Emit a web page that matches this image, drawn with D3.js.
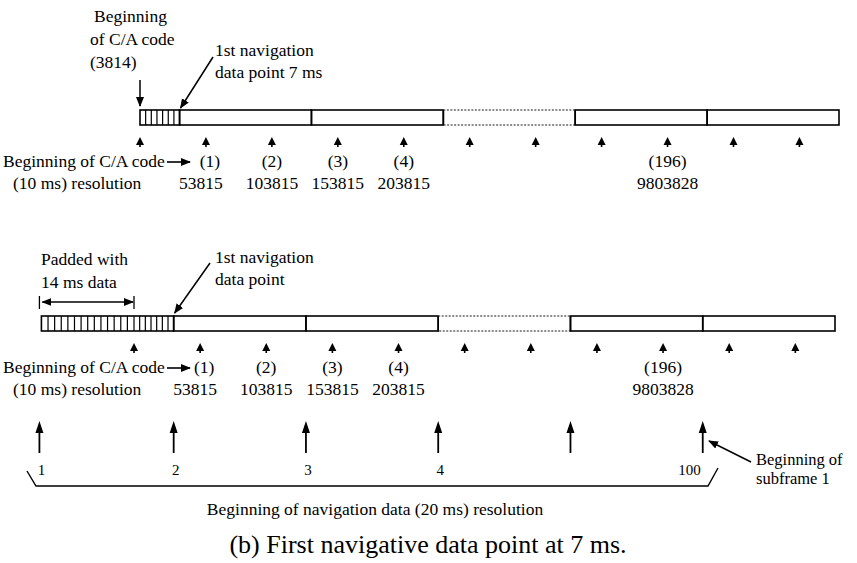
<!DOCTYPE html>
<html>
<head>
<meta charset="utf-8">
<script src="https://cdn.jsdelivr.net/npm/d3@7"></script>
<style>
  body { margin: 0; background: #fff; }
  svg text { font-family: "Liberation Serif", "Times New Roman", serif; fill: #000; }
</style>
</head>
<body>
<div id="chart"></div>
<script>
// C/A code sample points, every 10 ms (ms after the C/A code start)
const caTicksMs = [0, 10, 20, 30, 40, 50, 60, 70, 80, 90, 100];
// navigation bit edges (ms), 20 ms per bit
const navEdgesMs = [6, 26, 46, 66, 86, 106];
const dottedSeg = 2;          // the segment drawn as "skipped" data
const hatchCells = 7;         // 1 ms cells before the first navigation point
const padMs = -14;            // padding in the second panel
const padCells = 14;
// labels under the C/A arrows
const labelTickIdx = [1, 2, 3, 4, 8];
const idxLabels = ["(1)", "(2)", "(3)", "(4)", "(196)"];
const sampleLabels = ["53815", "103815", "153815", "203815", "9803828"];
// navigation-data arrows of the lower line
const navArrowMs = [-14, 6, 26, 46, 66, 86];
const navArrowLabels = ["1", "2", "3", "4", "", "100"];

const W = 857, H = 563;
const svg = d3.select("#chart").append("svg")
    .attr("width", W)
    .attr("height", H);

const xTop = d3.scaleLinear().domain([0, 106]).range([140, 839]);
const xBot = d3.scaleLinear().domain([0, 106]).range([134, 835]);

// arrow head markers for the thin pointer lines
const defs = svg.append("defs");
function marker(id, d, refX) {
    defs.append("marker")
        .attr("id", id)
        .attr("viewBox", "0 0 10 10")
        .attr("refX", refX).attr("refY", 5)
        .attr("markerWidth", 10).attr("markerHeight", 10)
        .attr("markerUnits", "userSpaceOnUse")
        .attr("orient", "auto")
        .append("path")
        .attr("d", d)
        .attr("fill", "#000");
}
marker("head", "M0,1 L10,5 L0,9 Z", 9);
marker("headRev", "M10,1 L0,5 L10,9 Z", 1);

function upArrow(g, x, yTip, len, hw, hh, sw) {
    g.append("line")
        .attr("x1", x).attr("x2", x)
        .attr("y1", yTip + hh - 1).attr("y2", yTip + len)
        .attr("stroke", "#000").attr("stroke-width", sw);
    g.append("path")
        .attr("d", `M${x},${yTip} L${x - hw / 2},${yTip + hh} L${x + hw / 2},${yTip + hh} Z`)
        .attr("fill", "#000");
}

function pointer(x1, y1, x2, y2) {
    svg.append("line")
        .attr("x1", x1).attr("y1", y1)
        .attr("x2", x2).attr("y2", y2)
        .attr("stroke", "#000").attr("stroke-width", 1.5)
        .attr("marker-end", "url(#head)");
}

function text(x, y, str, size, anchor) {
    return svg.append("text")
        .attr("x", x).attr("y", y)
        .attr("text-anchor", anchor || "start")
        .style("font-size", size + "px")
        .text(str);
}

function drawPanel(x, barTop, barH, startMs, cellsBefore) {
    const g = svg.append("g");
    // hatched part (padding + first 7 ms)
    g.append("rect")
        .attr("x", x(startMs)).attr("y", barTop)
        .attr("width", x(navEdgesMs[0]) - x(startMs)).attr("height", barH)
        .attr("fill", "none").attr("stroke", "#000").attr("stroke-width", 1.6);
    const cellEdges = [];
    for (let i = 1; i < cellsBefore; i++) cellEdges.push(startMs + (0 - startMs) * i / cellsBefore);
    for (let i = 0; i < hatchCells; i++) cellEdges.push(navEdgesMs[0] * i / hatchCells);
    g.selectAll(".cell").data(cellEdges.filter(d => d > startMs)).enter().append("line")
        .attr("x1", d => x(d)).attr("x2", d => x(d))
        .attr("y1", barTop).attr("y2", barTop + barH)
        .attr("stroke", "#000").attr("stroke-width", 1.2);

    // navigation bits
    const segs = d3.pairs(navEdgesMs);
    g.selectAll(".seg").data(segs).enter().append("rect")
        .attr("x", d => x(d[0])).attr("y", barTop)
        .attr("width", d => x(d[1]) - x(d[0])).attr("height", barH)
        .attr("fill", "none")
        .attr("stroke", (d, i) => i === dottedSeg ? "#666" : "#000")
        .attr("stroke-width", (d, i) => i === dottedSeg ? 1.3 : 1.6)
        .attr("stroke-dasharray", (d, i) => i === dottedSeg ? "2,1.5" : null);
    // solid ends of neighbours over the dotted box
    g.selectAll(".edge").data([navEdgesMs[dottedSeg], navEdgesMs[dottedSeg + 1]]).enter().append("line")
        .attr("x1", d => x(d)).attr("x2", d => x(d))
        .attr("y1", barTop).attr("y2", barTop + barH)
        .attr("stroke", "#000").attr("stroke-width", 1.6);

    // C/A code arrows
    const aTip = barTop + barH + 12;
    caTicksMs.forEach(t => upArrow(g, x(t), aTip, 10, 8, 8, 1.6));

    // labels
    const r1 = aTip + 30, r2 = r1 + 22;
    labelTickIdx.forEach((k, i) => {
        text(x(caTicksMs[k]) + (i === 0 ? 4 : 0), r1, idxLabels[i], 17.5, "middle");
        text(x(caTicksMs[k]) - (i === 0 ? 5 : 0), r2, sampleLabels[i], 17.5, "middle");
    });
    text(3, r1, "Beginning of C/A code", 17.5);
    svg.append("line")
        .attr("x1", 167).attr("x2", 190)
        .attr("y1", r1 - 5).attr("y2", r1 - 5)
        .attr("stroke", "#000").attr("stroke-width", 1.6)
        .attr("marker-end", "url(#head)");
    text(13, r2, "(10 ms) resolution", 17.5);
}

// ---- panel 1 : C/A code starts at 3814 ----
text(94, 22, "Beginning", 17.5);
text(90, 45, "of C/A code", 17.5);
text(90, 68, "(3814)", 17.5);
pointer(xTop(0), 80, xTop(0), 106);
text(215, 56, "1st navigation", 17.5);
text(215, 78, "data point 7 ms", 17.5);
pointer(213, 57, xTop(navEdgesMs[0]) + 1, 108);
drawPanel(xTop, 110, 15, 0, 0);

// ---- panel 2 : padded with 14 ms of data ----
text(41, 265, "Padded with", 17.5);
text(41, 288, "14 ms data", 17.5);
svg.append("line")
    .attr("x1", xBot(padMs) + 1).attr("x2", xBot(0) - 1)
    .attr("y1", 302).attr("y2", 302)
    .attr("stroke", "#000").attr("stroke-width", 1.5)
    .attr("marker-start", "url(#headRev)")
    .attr("marker-end", "url(#head)");
[padMs, 0].forEach(t => svg.append("line")
    .attr("x1", xBot(t) - (t === padMs ? 2 : 0)).attr("x2", xBot(t) - (t === padMs ? 2 : 0))
    .attr("y1", 296).attr("y2", 309)
    .attr("stroke", "#000").attr("stroke-width", 1.3));
text(215, 263, "1st navigation", 17.5);
text(215, 285, "data point", 17.5);
pointer(210, 263, xBot(navEdgesMs[0]) + 1, 313);
drawPanel(xBot, 316, 15, padMs, padCells);

// ---- navigation data arrows ----
navArrowMs.forEach((t, i) => {
    const ax = t === padMs ? xBot(t) - 2 : xBot(t);
    upArrow(svg, ax, 421, 32, 8, 12, 1.8);
    if (navArrowLabels[i]) {
        const right = navArrowLabels[i].length > 1;
        text(right ? ax - 2 : ax + 2, 475, navArrowLabels[i], 15, right ? "end" : "middle");
    }
});
// bracket
svg.append("path")
    .attr("d", "M27,471 L36,486 L708,486 L718,468")
    .attr("fill", "none").attr("stroke", "#000").attr("stroke-width", 1.4);
text(375, 515, "Beginning of navigation data (20 ms) resolution", 17.5, "middle");

text(756, 465, "Beginning of", 16.5);
text(756, 484, "subframe 1", 16.5);
pointer(751, 462, 709, 441);

text(428, 553, "(b) First navigative data point at 7 ms.", 26, "middle");
</script>
</body>
</html>
